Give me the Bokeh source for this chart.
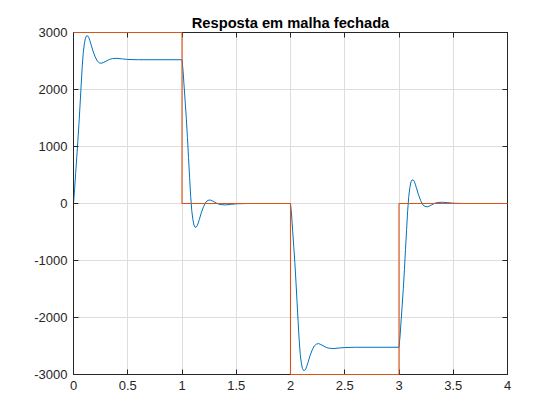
from bokeh.plotting import figure
from bokeh.models import LinearAxis, FixedTicker, Range1d, Grid
from bokeh.embed import file_html
from bokeh.resources import INLINE

# Reference (setpoint) signal
ref_t = [0, 1, 1, 2, 2, 3, 3, 4]
ref_v = [3000, 3000, 0, 0, -3000, -3000, 0, 0]

# Closed-loop response
out_t = [
    0.00, 0.01, 0.02, 0.03, 0.04, 0.05, 0.06, 0.07, 0.08, 0.09, 0.10, 0.11, 0.12, 0.13, 0.14,
    0.15, 0.16, 0.18, 0.20, 0.22, 0.24, 0.26, 0.28, 0.30, 0.33, 0.36, 0.40, 0.45, 0.50, 0.60,
    1.00, 1.01, 1.02, 1.03, 1.04, 1.05, 1.06, 1.07, 1.08, 1.09, 1.10, 1.11, 1.12, 1.13, 1.14,
    1.15, 1.16, 1.18, 1.20, 1.22, 1.24, 1.26, 1.28, 1.30, 1.33, 1.36, 1.40, 1.45, 1.50, 1.60,
    2.00, 2.01, 2.02, 2.03, 2.04, 2.05, 2.06, 2.07, 2.08, 2.09, 2.10, 2.11, 2.12, 2.13, 2.14,
    2.15, 2.16, 2.18, 2.20, 2.22, 2.24, 2.26, 2.28, 2.30, 2.33, 2.36, 2.40, 2.45, 2.50, 2.60,
    3.00, 3.01, 3.02, 3.03, 3.04, 3.05, 3.06, 3.07, 3.08, 3.09, 3.10, 3.11, 3.12, 3.13, 3.14,
    3.15, 3.16, 3.18, 3.20, 3.22, 3.24, 3.26, 3.28, 3.30, 3.33, 3.36, 3.40, 3.45, 3.50, 3.60,
    4.00,
]
out_v = [
    0, 250, 530, 810, 1090, 1390, 1715, 2060, 2390, 2645, 2800, 2900, 2940, 2942, 2915,
    2862, 2799, 2673, 2572, 2497, 2466, 2461, 2477, 2497, 2527, 2542, 2547, 2537, 2527, 2522,
    2522, 2320, 2043, 1765, 1488, 1160, 807, 454, 126, -126, -277, -378, -416, -416, -391,
    -340, -277, -151, -50, 25, 56, 61, 45, 25, -5, -20, -25, -15, -5, 0,
    0, -202, -479, -757, -1034, -1362, -1715, -2068, -2396, -2648, -2799, -2895, -2930, -2928, -2905,
    -2855, -2795, -2670, -2570, -2497, -2466, -2458, -2475, -2495, -2527, -2540, -2545, -2535, -2527, -2522,
    -2522, -2320, -2043, -1765, -1488, -1160, -807, -454, -126, 126, 277, 378, 412, 414, 391,
    340, 277, 151, 50, -25, -52, -58, -45, -25, 5, 18, 22, 15, 5, 0,
    0,
]

x_ticks = [0, 0.5, 1, 1.5, 2, 2.5, 3, 3.5, 4]
x_labels = ["0", "0.5", "1", "1.5", "2", "2.5", "3", "3.5", "4"]
y_ticks = [-3000, -2000, -1000, 0, 1000, 2000, 3000]
y_labels = ["-3000", "-2000", "-1000", "0", "1000", "2000", "3000"]

AX = "#262626"
FONT = "Liberation Sans"

p = figure(width=544, height=404, output_backend="svg", toolbar_location=None,
           x_range=Range1d(0, 4), y_range=Range1d(-3000, 3000),
           min_border_left=73, min_border_right=37, min_border_top=32, min_border_bottom=30,
           x_axis_location=None, y_axis_location=None)
p.background_fill_color = "white"
p.border_fill_color = "white"
p.outline_line_color = AX
p.outline_line_width = 1

p.title.text = "Resposta em malha fechada"
p.title.align = "center"
p.title.text_font = FONT
p.title.text_font_size = "14.7px"
p.title.text_font_style = "bold"
p.title.text_color = "black"
p.title.standoff = 3
p.title.offset = 0


def make_axis(ticks, labels, show_labels):
    ax = LinearAxis(ticker=FixedTicker(ticks=ticks))
    ax.major_tick_in = 5
    ax.major_tick_out = 0
    ax.minor_tick_in = 0
    ax.minor_tick_out = 0
    ax.axis_line_color = AX
    ax.major_tick_line_color = AX
    ax.major_label_text_color = AX
    ax.major_label_text_font = FONT
    if show_labels:
        ax.major_label_overrides = {t: l for t, l in zip(ticks, labels)}
        ax.major_label_text_font_size = "13px"
        ax.major_label_standoff = 6
    else:
        ax.major_label_overrides = {t: "" for t in ticks}
        ax.major_label_text_font_size = "1px"
        ax.major_label_standoff = 0
    return ax


p.add_layout(make_axis(x_ticks, x_labels, True), "below")
p.add_layout(make_axis(y_ticks, y_labels, True), "left")
p.add_layout(make_axis(x_ticks, x_labels, False), "above")
p.add_layout(make_axis(y_ticks, y_labels, False), "right")

for dim, ticks in ((0, x_ticks), (1, y_ticks)):
    g = Grid(dimension=dim, ticker=FixedTicker(ticks=ticks))
    g.grid_line_color = "#dedede"
    g.grid_line_width = 1
    p.add_layout(g)

p.line(out_t, out_v, line_color="#0072BD", line_width=1.0)
p.line(ref_t, ref_v, line_color="#D95319", line_width=1.1, level="overlay")

open("out.html", "w").write(file_html(p, INLINE))
